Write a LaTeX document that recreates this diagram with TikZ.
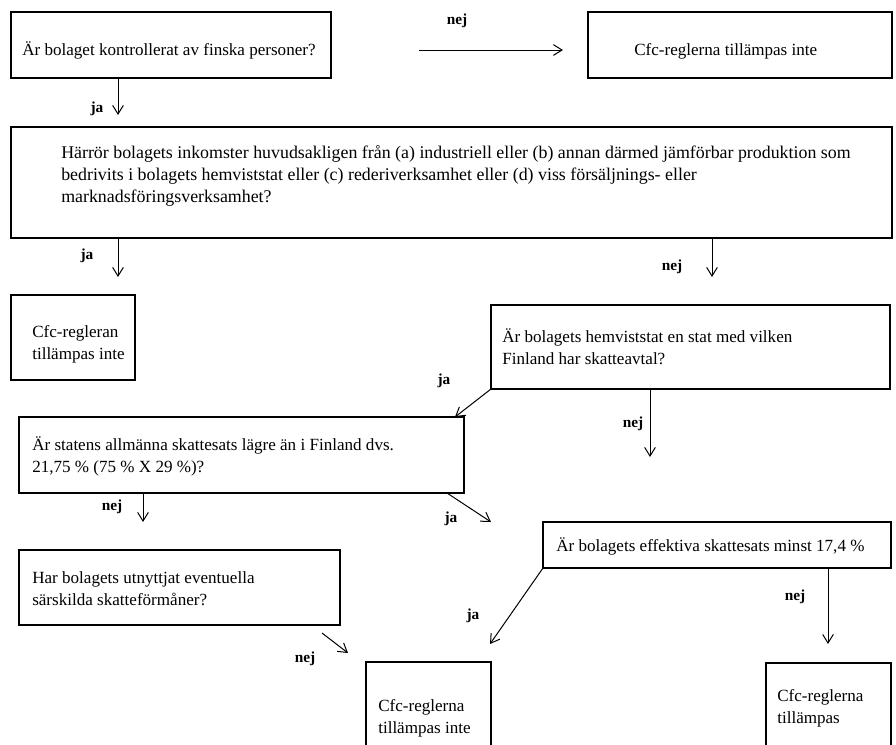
\documentclass[tikz,border=0pt]{standalone}
\usepackage{fontspec}
\setmainfont{Liberation Serif}
\usetikzlibrary{arrows.meta}
\begin{document}
\begin{tikzpicture}[x=0.75pt,y=-0.75pt,
  box/.style={draw=black, line width=0.9pt, inner sep=0pt, outer sep=0pt, anchor=north west},
  txt/.style={anchor=base west, align=left, inner sep=0pt, font=\fontsize{12.8}{16.5}\selectfont},
  bigtxt/.style={txt, font=\fontsize{13.4}{16.5}\selectfont},
  lbl/.style={anchor=base, inner sep=0pt, font=\fontsize{11.5}{13}\selectfont\bfseries},
  arr/.style={line width=0.75pt, -{Straight Barb[length=6.5pt,width=8pt]}}
]
\useasboundingbox (0,0) rectangle (896,744);
\clip (0,0) rectangle (896,744);

% boxes
\node[box, minimum width=240pt,    minimum height=49.5pt]  (A)  at (11,12)  {};
\node[box, minimum width=228pt,    minimum height=49.5pt]  (TR) at (588,12) {};
\node[box, minimum width=660.75pt, minimum height=83.25pt] (B)  at (11,127) {};
\node[box, minimum width=93pt,     minimum height=63.75pt] (C)  at (11,295) {};
\node[box, minimum width=299.25pt, minimum height=63pt]    (D)  at (491,305) {};
\node[box, minimum width=333.75pt, minimum height=57pt]    (E)  at (19,417) {};
\node[box, minimum width=240.75pt, minimum height=56.25pt] (F)  at (19,550) {};
\node[box, minimum width=261pt,    minimum height=34.5pt]  (G)  at (543,522) {};
\node[box, minimum width=93.75pt,  minimum height=82.5pt]  (H)  at (366,662) {};
\node[box, minimum width=93.75pt,  minimum height=82.5pt]  (I)  at (766,663) {};

% texts (base anchor = baseline of the last line)
\node[txt] (tA)  at (22,55)   {Är bolaget kontrollerat av finska personer?};
\node[txt] (tTR) at (634,55)  {Cfc-reglerna tillämpas inte};
\node[bigtxt] (tB)  at (61,202)  {Härrör bolagets inkomster huvudsakligen från (a) industriell eller (b) annan därmed jämförbar produktion som\\bedrivits i bolagets hemviststat eller (c) rederiverksamhet eller (d) viss försäljnings- eller\\marknadsföringsverksamhet?};
\node[txt] (tC)  at (32,359)  {Cfc-regleran\\tillämpas inte};
\node[txt] (tD)  at (502,364) {Är bolagets hemviststat en stat med vilken\\Finland har skatteavtal?};
\node[txt] (tE)  at (32,472)  {Är statens allmänna skattesats lägre än i Finland dvs.\\21,75 \% (75 \% X 29 \%)?};
\node[txt] (tF)  at (32,605)  {Har bolagets utnyttjat eventuella\\särskilda skatteförmåner?};
\node[txt] (tG)  at (556,551) {Är bolagets effektiva skattesats minst 17,4 \%};
\node[txt] (tH)  at (378,733) {Cfc-reglerna\\tillämpas inte};
\node[txt] (tI)  at (777,723) {Cfc-reglerna\\tillämpas};

% arrow end points
\coordinate (a1)  at (118,115);
\coordinate (n1s) at (419,50);
\coordinate (n1e) at (563,50);
\coordinate (a3)  at (118,277);
\coordinate (a4)  at (712,277);
\coordinate (a5)  at (455,417);
\coordinate (a6)  at (650,457);
\coordinate (a7)  at (143,522);
\coordinate (a8)  at (491,522);
\coordinate (f1)  at (322,633);
\coordinate (f2)  at (348,653);
\coordinate (a10) at (490,644);
\coordinate (a11) at (828,644);

% connectors
\draw[arr] (A.south -| a1) -- (a1);
\draw[arr] (n1s) -- (n1e);
\draw[arr] (B.south -| a3) -- (a3);
\draw[arr] (B.south -| a4) -- (a4);
\draw[arr] (D.south west) -- (a5);
\draw[arr] (D.south -| a6) -- (a6);
\draw[arr] (E.south -| a7) -- (a7);
\draw[arr] ([xshift=-12.75pt]E.south east) -- (a8);
\draw[arr] (f1) -- (f2);
\draw[arr] (G.south west) -- (a10);
\draw[arr] (G.south -| a11) -- (a11);

% labels
\node[lbl] (l1)  at (97,112)  {ja};
\node[lbl] (l2)  at (457,24)  {nej};
\node[lbl] (l3)  at (87,259)  {ja};
\node[lbl] (l4)  at (672,270) {nej};
\node[lbl] (l5)  at (444,384) {ja};
\node[lbl] (l6)  at (633,427) {nej};
\node[lbl] (l7)  at (112,510) {nej};
\node[lbl] (l8)  at (451,522) {ja};
\node[lbl] (l9)  at (305,662) {nej};
\node[lbl] (l10) at (473,619) {ja};
\node[lbl] (l11) at (795,600) {nej};
\end{tikzpicture}
\end{document}
